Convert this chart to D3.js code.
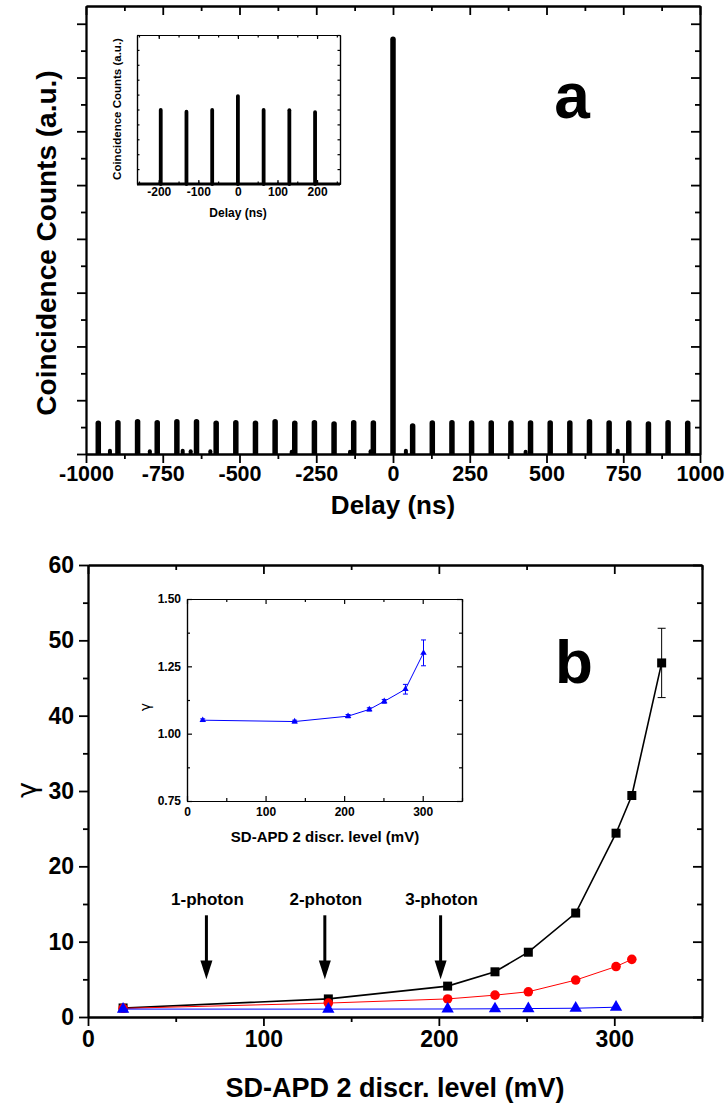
<!DOCTYPE html>
<html>
<head>
<meta charset="utf-8">
<script src="https://cdn.jsdelivr.net/npm/d3@7"></script>
<style>
  body { margin: 0; background: #fff; }
  svg { display: block; }
</style>
</head>
<body>
<svg id="fig"></svg>
<script>
// ---- panel a: coincidence histogram (delay in ns, counts in a.u.)
const peakDelay = [-960, -896, -832, -768, -704, -640, -576, -512, -448, -384, -320, -256, -192, -128, -64,
  0, 64, 128, 192, 256, 320, 384, 448, 512, 576, 640, 704, 768, 832, 896, 960];
const peakCounts = [0.57, 0.58, 0.6, 0.58, 0.6, 0.6, 0.57, 0.58, 0.57, 0.6, 0.57, 0.58, 0.56, 0.58, 0.575,
  7.71, 0.52, 0.575, 0.58, 0.575, 0.575, 0.575, 0.575, 0.575, 0.575, 0.6, 0.575, 0.575, 0.56, 0.58, 0.57];
const bumpDelay = [-922, -792, -685, -659, -595, -330, -140, -73, 42, 432, 732];
const bumpCounts = [0.06, 0.05, 0.06, 0.05, 0.05, 0.04, 0.04, 0.05, 0.06, 0.04, 0.06];
const aDelayTicks = [-1000, -750, -500, -250, 0, 250, 500, 750, 1000];

// inset of panel a
const insetDelay = [-195, -130, -65, 0, 65, 130, 195];
const insetCounts = [4.97, 4.85, 4.97, 5.9, 4.97, 4.95, 4.83];
const insetDelayTicks = [-200, -100, 0, 100, 200];

// ---- panel b: gamma vs SD-APD 2 discrimination level (mV)
const levelMV = [20, 137, 205, 232, 251, 278, 301, 310, 327];
const gammaBlack = [1.2, 2.4, 4.1, 6.0, 8.6, 13.8, 24.4, 29.4, 47.0];
const gammaBlackErr = [0, 0, 0, 0, 0, 0, 0, 0, 4.6];
const gammaRed = [1.15, 1.85, 2.4, 2.9, 3.35, 4.9, 6.7, 7.65];
const gammaBlue = [1.05, 1.045, 1.065, 1.09, 1.12, 1.165, 1.30];
const gammaBlueErr = [0.005, 0.005, 0.006, 0.006, 0.007, 0.018, 0.048];
const bLevelTicks = [0, 100, 200, 300];
const bGammaTicks = [0, 10, 20, 30, 40, 50, 60];
const insetGammaTicks = [0.75, 1.00, 1.25, 1.50];

const photonLabels = ["1-photon", "2-photon", "3-photon"];
const photonMV = [67.5, 135, 201];

const W = 727, H = 1106;
const FONT = '"Liberation Sans", Arial, sans-serif';
const GREEK = '"DejaVu Sans", sans-serif';

const svg = d3.select("#fig").attr("width", W).attr("height", H);
svg.append("rect").attr("width", W).attr("height", H).attr("fill", "#fff");

function styleText(sel, size) {
  sel.attr("font-family", FONT).attr("font-weight", "bold")
    .attr("font-size", size).attr("fill", "#000");
}

// Origin-style frame: labelled bottom/left axes, mirrored ticks on top/right
function boxAxes(g, x, y, o) {
  const [xl, xr] = x.range(), [yb, yt] = y.range();
  const s = o.out ? 1 : -1;
  const add = (axis, tr, vals, size, fmt) => {
    const a = g.append("g").attr("transform", tr)
      .call(axis.tickValues(vals).tickSizeInner(size).tickSizeOuter(0)
        .tickPadding(o.pad).tickFormat(fmt || (() => "")));
    a.selectAll(".domain, .tick line").attr("stroke", "#000").attr("stroke-width", o.sw);
    a.selectAll("text").call(styleText, o.fs);
  };
  add(d3.axisBottom(x), `translate(0,${yb})`, o.xMinor, s * o.minor);
  add(d3.axisBottom(x), `translate(0,${yb})`, o.xMajor, s * o.major, o.fx);
  add(d3.axisTop(x), `translate(0,${yt})`, o.xMinor, -o.minor);
  add(d3.axisTop(x), `translate(0,${yt})`, o.xMajor, -o.major);
  add(d3.axisLeft(y), `translate(${xl},0)`, o.yMinor, s * o.minor);
  add(d3.axisLeft(y), `translate(${xl},0)`, o.yMajor, s * o.major, o.fy);
  add(d3.axisRight(y), `translate(${xr},0)`, o.yMinor, -o.minor);
  add(d3.axisRight(y), `translate(${xr},0)`, o.yMajor, -o.major);
}

function peaks(g, x, y, xs, ys, w) {
  g.selectAll(null).data(xs).join("line")
    .attr("x1", d => x(d)).attr("x2", d => x(d))
    .attr("y1", y(0)).attr("y2", (d, i) => y(ys[i]))
    .attr("stroke", "#000").attr("stroke-width", w).attr("stroke-linecap", "round");
}

// ================= panel a =================
const xa = d3.scaleLinear([-1000, 1000], [86, 700]);
const ya = d3.scaleLinear([0, 8.33], [454, 6]);
const ga = svg.append("g");

ga.append("clipPath").attr("id", "clipA").append("rect")
  .attr("x", 86).attr("y", 0).attr("width", 614).attr("height", ya(0));
const pa = ga.append("g").attr("clip-path", "url(#clipA)");
peaks(pa, xa, ya, bumpDelay, bumpCounts, 4);
peaks(pa, xa, ya, peakDelay, peakCounts, 5.5);

boxAxes(ga, xa, ya, {
  xMajor: aDelayTicks, xMinor: d3.range(-875, 1000, 250),
  yMajor: d3.range(0, 9), yMinor: d3.range(0.5, 8.5, 1),
  major: 9, minor: 5, out: true, pad: 3, sw: 1.8, fs: 21.5,
  fx: d => d, fy: () => ""
});

ga.append("text").attr("x", 393).attr("y", 514).attr("text-anchor", "middle")
  .text("Delay (ns)").call(styleText, 26);
ga.append("text").attr("transform", "translate(56,243) rotate(-90)").attr("text-anchor", "middle")
  .text("Coincidence Counts (a.u.)").call(styleText, 28);
ga.append("text").attr("x", 572).attr("y", 118).attr("text-anchor", "middle")
  .text("a").call(styleText, 64);

// inset of panel a
const xi = d3.scaleLinear([-255, 258], [137, 340]);
const yi = d3.scaleLinear([0, 10], [184, 35]);
const gi = ga.append("g");
gi.append("rect").attr("x", 137).attr("y", 35).attr("width", 203).attr("height", 149).attr("fill", "#fff");
gi.append("line").attr("x1", xi(-255)).attr("x2", xi(258)).attr("y1", yi(0)).attr("y2", yi(0))
  .attr("stroke", "#000").attr("stroke-width", 3);
peaks(gi, xi, yi, insetDelay, insetCounts, 3.8);
boxAxes(gi, xi, yi, {
  xMajor: insetDelayTicks, xMinor: d3.range(-250, 251, 50),
  yMajor: [], yMinor: d3.range(0, 11),
  major: 4, minor: 2.5, out: false, pad: 3, sw: 1.2, fs: 12,
  fx: d => d, fy: () => ""
});
gi.append("text").attr("x", 238).attr("y", 217).attr("text-anchor", "middle")
  .text("Delay (ns)").call(styleText, 12);
gi.append("text").attr("transform", "translate(121,109) rotate(-90)").attr("text-anchor", "middle")
  .text("Coincidence Counts (a.u.)").call(styleText, 11.5);

// ================= panel b =================
const xb = d3.scaleLinear([0, 350], [88, 702]);
const yb = d3.scaleLinear([0, 60], [1017, 565]);
const gb = svg.append("g");

boxAxes(gb, xb, yb, {
  xMajor: bLevelTicks, xMinor: d3.range(50, 351, 100),
  yMajor: bGammaTicks, yMinor: d3.range(5, 60, 10),
  major: 9, minor: 5, out: true, pad: 5, sw: 1.8, fs: 23,
  fx: d => d, fy: d => d
});

gb.append("text").attr("x", 395).attr("y", 1097).attr("text-anchor", "middle")
  .text("SD-APD 2 discr. level (mV)").call(styleText, 27);
gb.append("text").attr("transform", "translate(36,790) rotate(-90)").attr("text-anchor", "middle")
  .text("γ").call(styleText, 27).attr("font-family", GREEK).attr("font-weight", "normal");
gb.append("text").attr("x", 574).attr("y", 683).attr("text-anchor", "middle")
  .text("b").call(styleText, 62);

function series(g, x, y, xs, ys, errs, color, lw, shape, size, cap) {
  const pts = ys.map((v, i) => [xs[i], v, errs ? errs[i] : 0]);
  g.append("path").datum(pts)
    .attr("d", d3.line().x(d => x(d[0])).y(d => y(d[1])))
    .attr("fill", "none").attr("stroke", color).attr("stroke-width", lw);
  const eb = g.append("g").attr("stroke", color).attr("stroke-width", 1);
  pts.filter(d => d[2] > 0).forEach(d => {
    const cx = x(d[0]), t = y(d[1] + d[2]), b = y(d[1] - d[2]);
    eb.append("line").attr("x1", cx).attr("x2", cx).attr("y1", t).attr("y2", b);
    eb.append("line").attr("x1", cx - cap).attr("x2", cx + cap).attr("y1", t).attr("y2", t);
    eb.append("line").attr("x1", cx - cap).attr("x2", cx + cap).attr("y1", b).attr("y2", b);
  });
  g.append("g").selectAll("path").data(pts).join("path")
    .attr("transform", d => `translate(${x(d[0])},${y(d[1])})`)
    .attr("d", d3.symbol(shape, size))
    .attr("fill", color);
}

series(gb, xb, yb, levelMV, gammaBlack, gammaBlackErr, "#000", 1.6, d3.symbolSquare, 81, 4);
series(gb, xb, yb, levelMV, gammaRed, null, "#ff0000", 1, d3.symbolCircle, 72, 4);
series(gb, xb, yb, levelMV, gammaBlue, null, "#0000ff", 1, d3.symbolTriangle, 66, 4);

// photon-number arrows
const arrows = gb.append("g");
photonMV.forEach((mv, i) => {
  const cx = xb(mv), top = yb(13.5), tip = yb(5.0), base = yb(7.5);
  arrows.append("line").attr("x1", cx).attr("x2", cx).attr("y1", top).attr("y2", base + 1)
    .attr("stroke", "#000").attr("stroke-width", 3);
  arrows.append("path")
    .attr("d", `M${cx - 6},${base}L${cx + 6},${base}L${cx},${tip}Z`).attr("fill", "#000");
  arrows.append("text").attr("x", cx + 1).attr("y", yb(14.9)).attr("text-anchor", "middle")
    .text(photonLabels[i]).call(styleText, 17);
});

// inset of panel b
const xbi = d3.scaleLinear([0, 350], [187, 462]);
const ybi = d3.scaleLinear([0.75, 1.5], [801, 599]);
const gbi = gb.append("g");
gbi.append("rect").attr("x", 187).attr("y", 599).attr("width", 275).attr("height", 202).attr("fill", "#fff");
boxAxes(gbi, xbi, ybi, {
  xMajor: bLevelTicks, xMinor: d3.range(50, 351, 100),
  yMajor: insetGammaTicks, yMinor: d3.range(0.875, 1.5, 0.25),
  major: 5, minor: 3, out: false, pad: 6, sw: 1.2, fs: 12,
  fx: d => d, fy: d3.format(".2f")
});
series(gbi, xbi, ybi, levelMV, gammaBlue, gammaBlueErr, "#0000ff", 1, d3.symbolTriangle, 18, 2.5);
gbi.append("text").attr("x", 325).attr("y", 842).attr("text-anchor", "middle")
  .text("SD-APD 2 discr. level (mV)").call(styleText, 15);
gbi.append("text").attr("transform", "translate(150,707) rotate(-90)").attr("text-anchor", "middle")
  .text("γ").call(styleText, 14).attr("font-family", GREEK).attr("font-weight", "normal");
</script>
</body>
</html>
